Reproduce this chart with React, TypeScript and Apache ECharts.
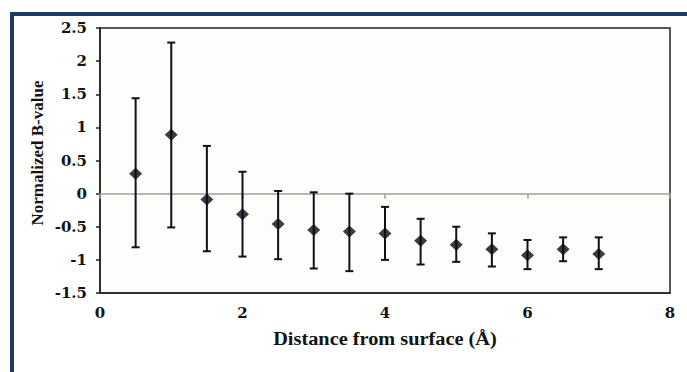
import React, { useEffect, useRef } from "react";
import * as echarts from "echarts";

const distances = [0.5, 1, 1.5, 2, 2.5, 3, 3.5, 4, 4.5, 5, 5.5, 6, 6.5, 7];
const means = [0.3, 0.89, -0.09, -0.31, -0.46, -0.55, -0.57, -0.6, -0.71, -0.77, -0.84, -0.93, -0.84, -0.91];
const upper = [1.44, 2.28, 0.72, 0.33, 0.04, 0.02, 0.0, -0.2, -0.38, -0.5, -0.6, -0.7, -0.66, -0.66];
const lower = [-0.81, -0.51, -0.87, -0.95, -0.99, -1.13, -1.17, -1.0, -1.07, -1.03, -1.1, -1.14, -1.02, -1.14];

const xTitle = "Distance from surface (Å)";
const yTitle = "Normalized B-value";

export default function App() {
  const ref = useRef<HTMLDivElement>(null);
  useEffect(() => {
    if (!ref.current) return;
    const chart = echarts.init(ref.current, null, { renderer: "svg" });
    const tickFont = {
      fontFamily: "DejaVu Serif",
      fontWeight: "bold",
      fontSize: 15,
      color: "#141414",
    };
    const errData = distances.map((d, i) => [d, lower[i], upper[i]]);
    const pts = distances.map((d, i) => [d, means[i]]);
    chart.setOption({
      animation: false,
      backgroundColor: "#ffffff",
      grid: {
        left: 100,
        top: 28,
        right: 17,
        bottom: 79,
        show: true,
        borderColor: "#222",
        borderWidth: 1.5,
        backgroundColor: "#fdfdfb",
      },
      xAxis: [
        {
          type: "value",
          min: 0,
          max: 8,
          interval: 2,
          position: "bottom",
          axisLine: { show: true, onZero: false, lineStyle: { color: "#222", width: 1.5 } },
          axisTick: { show: false },
          splitLine: { show: false },
          axisLabel: { ...tickFont, margin: 12 },
        },
        {
          type: "value",
          min: 0,
          max: 8,
          interval: 2,
          position: "bottom",
          axisLine: {
            show: true,
            onZero: true,
            onZeroAxisIndex: 0,
            lineStyle: { color: "#a39d98", width: 1.5 },
          },
          axisTick: { show: true, length: 5, lineStyle: { color: "#a39d98", width: 1.5 } },
          splitLine: { show: false },
          axisLabel: { show: false },
        },
      ],
      yAxis: {
        type: "value",
        min: -1.5,
        max: 2.5,
        interval: 0.5,
        position: "left",
        axisLine: { show: true, onZero: false, lineStyle: { color: "#222", width: 1.5 } },
        axisTick: { show: true, length: 4, lineStyle: { color: "#222", width: 1.5 } },
        splitLine: { show: false },
        axisLabel: { ...tickFont, margin: 13 },
      },
      series: [
        {
          type: "custom",
          xAxisIndex: 0,
          yAxisIndex: 0,
          data: errData,
          renderItem: (params: any, api: any) => {
            const x = api.value(0);
            const lo = api.coord([x, api.value(1)]);
            const hi = api.coord([x, api.value(2)]);
            const cap = 4;
            const style = { stroke: "#111111", lineWidth: 2 };
            return {
              type: "group",
              children: [
                { type: "line", shape: { x1: hi[0], y1: hi[1], x2: lo[0], y2: lo[1] }, style },
                { type: "line", shape: { x1: hi[0] - cap, y1: hi[1], x2: hi[0] + cap, y2: hi[1] }, style },
                { type: "line", shape: { x1: lo[0] - cap, y1: lo[1], x2: lo[0] + cap, y2: lo[1] }, style },
              ],
            };
          },
          z: 2,
        },
        {
          type: "scatter",
          xAxisIndex: 0,
          yAxisIndex: 0,
          data: pts,
          symbol: "diamond",
          symbolSize: [13, 12],
          itemStyle: { color: "#0a0a14" },
          z: 3,
        },
      ],
      graphic: [
        { type: "rect", shape: { x: 10, y: 12, width: 677, height: 4 }, style: { fill: "#1b3b69" } },
        { type: "rect", shape: { x: 10, y: 12, width: 4, height: 360 }, style: { fill: "#1b3b69" } },
        {
          type: "text",
          x: 385,
          y: 339,
          scaleX: 1.13,
          style: {
            text: xTitle,
            fontFamily: "Liberation Serif",
            fontWeight: "bold",
            fontSize: 18,
            fill: "#141414",
            align: "center",
            verticalAlign: "middle",
          },
        },
        {
          type: "text",
          x: 37,
          y: 153,
          rotation: Math.PI / 2,
          style: {
            text: yTitle,
            fontFamily: "Liberation Serif",
            fontWeight: "bold",
            fontSize: 17,
            fill: "#141414",
            align: "center",
            verticalAlign: "middle",
          },
        },
      ],
    });
    return () => chart.dispose();
  }, []);
  return (
    <div
      ref={ref}
      style={{ position: "fixed", left: 0, top: 0, width: 687, height: 372 }}
    />
  );
}
